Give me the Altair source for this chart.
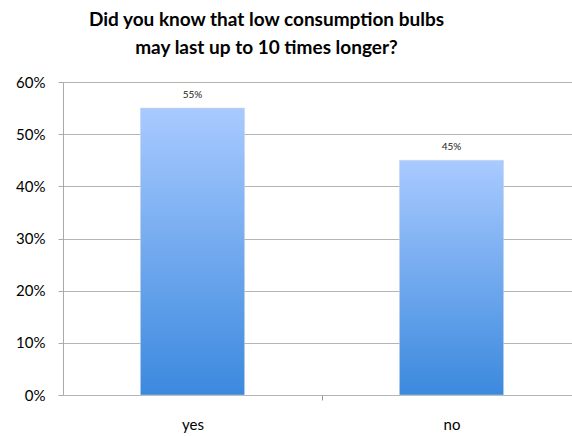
import altair as alt
import pandas as pd

categories = ["yes", "no"]
values = [0.55, 0.45]
labels = ["55%", "45%"]

df = pd.DataFrame({"answer": categories, "share": values, "label": labels})

gradient = alt.Gradient(
    gradient="linear",
    x1=0, y1=0, x2=0, y2=1,
    stops=[
        alt.GradientStop(color="#a9caff", offset=0),
        alt.GradientStop(color="#3b89de", offset=1),
    ],
)

x = alt.X("answer:N", sort=categories, title=None,
          scale=alt.Scale(paddingInner=0.598, paddingOuter=0.299, range=[0, 518]),
          axis=alt.Axis(labelAngle=0, labelFont="Lato", labelFontSize=15,
                        labelColor="#000000", labelPadding=17,
                        tickOffset=129.5, labelOffset=-129.5,
                        tickColor="#9a9a9a", tickSize=5, tickWidth=1,
                        domain=False, grid=False))
y = alt.Y("share:Q", title=None,
          scale=alt.Scale(domain=[0, 0.6]),
          axis=alt.Axis(format=".0%", values=[0, 0.1, 0.2, 0.3, 0.4, 0.5, 0.6],
                        labelFont="Lato", labelFontSize=15, labelColor="#000000",
                        labelPadding=13, tickSize=5, tickColor="#aaaaaa",
                        domainColor="#aaaaaa", gridColor="#b5b5b5",
                        gridWidth=1))

bars = alt.Chart(df).mark_bar(color=gradient, stroke="#c8d4e4", strokeWidth=0.5).encode(x=x, y=y)
text = alt.Chart(df).mark_text(dy=-13, font="Lato", fontSize=10, color="#222222").encode(
    x=alt.X("answer:N", sort=categories), y="share:Q", text="label:N")

chart = (bars + text).properties(
    width=509, height=313,
    title=alt.TitleParams(
        ["Did you know that low consumption bulbs", "may last up to 10 times longer?"],
        font="Lato", fontSize=19, fontWeight="bold", color="#000000",
        anchor="middle", dx=-51, offset=17, lineHeight=28),
    autosize=alt.AutoSizeParams(type="none"),
    padding={"left": 63, "top": 82, "right": 0, "bottom": 41},
).configure_view(stroke=None)

chart.save("out.html", embed_options={"renderer": "svg", "actions": False})
